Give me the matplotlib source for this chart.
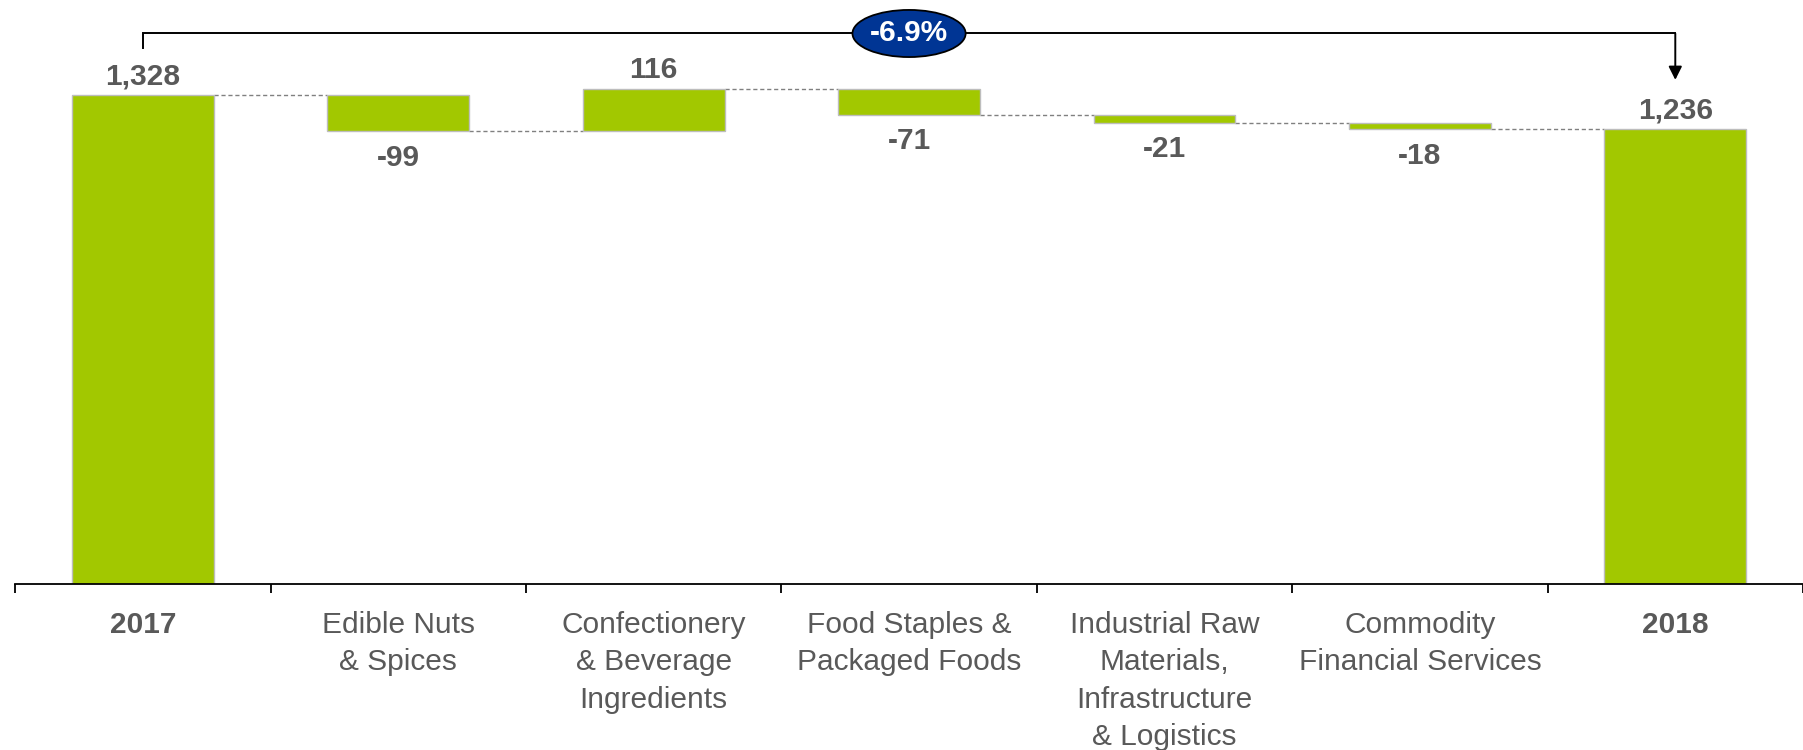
import numpy as np
import matplotlib
matplotlib.use("Agg")
import matplotlib.pyplot as plt
from matplotlib.patches import Ellipse

# --- data ---
categories = ["2017", "Edible Nuts\n& Spices", "Confectionery\n& Beverage\nIngredients",
              "Food Staples &\nPackaged Foods", "Industrial Raw\nMaterials,\nInfrastructure\n& Logistics",
              "Commodity\nFinancial Services", "2018"]
start_value = 1328
deltas = [-99, 116, -71, -21, -18]
end_value = 1236

# --- styles ---
BAR_GREEN = "#A2C800"
TEXT_GREY = "#595959"
NAVY = "#003594"
FONT = ["Liberation Sans", "DejaVu Sans"]
plt.rcParams["font.family"] = FONT

# running totals for the waterfall
running = [start_value]
for d in deltas:
    running.append(running[-1] + d)

bottoms = [0]
heights = [start_value]
for i, d in enumerate(deltas):
    bottoms.append(min(running[i], running[i + 1]))
    heights.append(abs(d))
bottoms.append(0)
heights.append(end_value)
values = [start_value] + deltas + [end_value]

x = np.arange(len(categories))
bar_w = 0.555

fig = plt.figure(figsize=(18.03, 7.5), dpi=100)
ax = fig.add_axes([15.1 / 1803, 1 - 583.7 / 750, 1 - 15.1 / 1803, 583.7 / 750])

ax.bar(x, heights, bottom=bottoms, width=bar_w, color=BAR_GREEN,
       edgecolor="#BDBDBD", linewidth=1.0, zorder=2)

# dashed connectors between bars
for i in range(len(categories) - 1):
    ax.plot([x[i] + bar_w / 2, x[i + 1] - bar_w / 2], [running[i], running[i]],
            ls=(0, (3, 2)), color="#808080", lw=1.0, zorder=1)

# value labels
for i, v in enumerate(values):
    top = bottoms[i] + heights[i]
    if v >= 0:
        ax.annotate(f"{v:,}", (x[i], top), xytext=(0, 13.5), textcoords="offset points",
                    ha="center", va="center", fontsize=21.5, fontweight="bold", color=TEXT_GREY)
    else:
        ax.annotate(f"{v:,}", (x[i], bottoms[i]), xytext=(0, -19), textcoords="offset points",
                    ha="center", va="center", fontsize=21.5, fontweight="bold", color=TEXT_GREY)

# bracket with total change
bracket_y = 1495
left_end = 1456
arrow_tip = 1369
ax.plot([x[0], x[0], x[-1]], [left_end, bracket_y, bracket_y], color="black", lw=1.4,
        solid_joinstyle="miter", zorder=3)
ax.annotate("", xy=(x[-1], arrow_tip), xytext=(x[-1], bracket_y),
            arrowprops=dict(arrowstyle="-|>", color="black", lw=1.4, mutation_scale=20,
                            shrinkA=0, shrinkB=0), zorder=3)
pct = (end_value - start_value) / start_value * 100
mid = (x[0] + x[-1]) / 2
ax.add_patch(Ellipse((mid, bracket_y), 0.443, 128, facecolor=NAVY, edgecolor="black",
                     lw=1.3, zorder=4))
ax.text(mid, bracket_y, f"{pct:.1f}%", ha="center", va="center", fontsize=21.5,
        fontweight="bold", color="white", zorder=5)

# axes
ax.set_xlim(-0.5, -0.5 + (1803 - 15.1) / 257.13)
ax.set_ylim(0, 1586)
for s in ["left", "top", "right"]:
    ax.spines[s].set_visible(False)
ax.spines["bottom"].set_color("black")
ax.spines["bottom"].set_linewidth(1.3)
ax.set_yticks([])
ax.set_xticks(x)
ax.set_xticklabels(categories, fontsize=21.5, color=TEXT_GREY, linespacing=1.41)
ax.set_xticks(np.arange(-0.5, len(categories), 1.0), minor=True)
ax.tick_params(axis="x", which="major", length=0, pad=20)
ax.tick_params(axis="x", which="minor", length=6.5, width=1.3, color="black", direction="out")
for lbl in ax.get_xticklabels():
    if lbl.get_text() in ("2017", "2018"):
        lbl.set_fontweight("bold")

fig.savefig("out.png", dpi=100)
